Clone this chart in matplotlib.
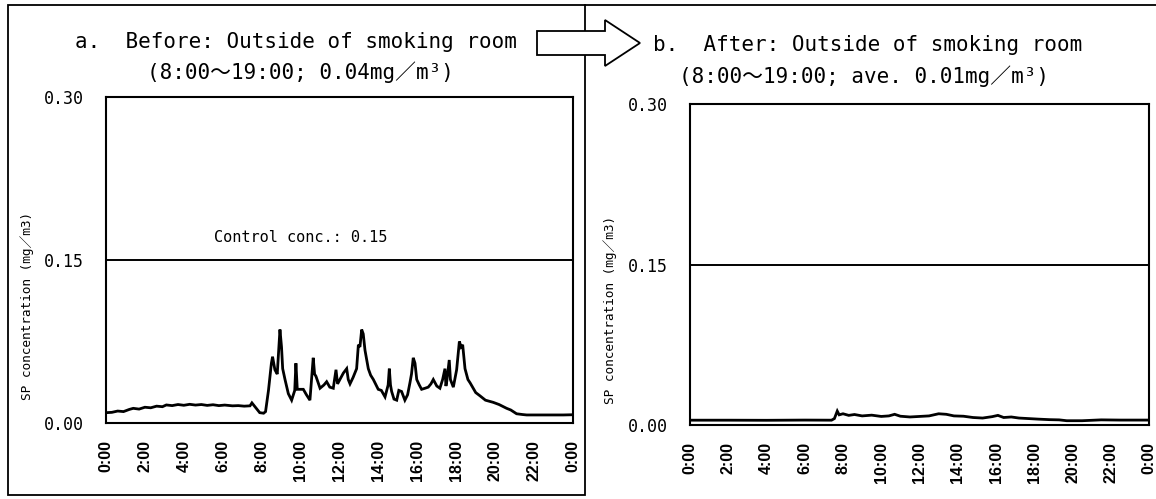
import matplotlib
matplotlib.use("Agg")
import matplotlib.pyplot as plt
from matplotlib.patches import Polygon, Rectangle
from matplotlib.lines import Line2D

# ---------------- data ----------------
tick_hours = [0, 2, 4, 6, 8, 10, 12, 14, 16, 18, 20, 22, 24]
tick_labels = ["0:00", "2:00", "4:00", "6:00", "8:00", "10:00", "12:00",
               "14:00", "16:00", "18:00", "20:00", "22:00", "0:00"]
y_ticks = [0.00, 0.15, 0.30]
y_tick_labels = ["0.00", "0.15", "0.30"]
control_conc = 0.15

before_hours = [0.0, 0.3, 0.6, 0.9, 1.2, 1.4, 1.7, 2.0, 2.3, 2.6, 2.9, 3.1, 3.4, 3.7,
                4.0, 4.3, 4.6, 4.9, 5.2, 5.5, 5.8, 6.1, 6.5, 6.8, 7.1, 7.4, 7.5, 7.7,
                7.9, 8.1, 8.2, 8.35, 8.5, 8.56, 8.68, 8.8, 8.94, 9.02, 9.08, 9.2, 9.37,
                9.54, 9.7, 9.76, 9.83, 10.14, 10.3, 10.48, 10.65, 10.72, 10.79, 11.0,
                11.2, 11.34, 11.5, 11.68, 11.82, 11.9, 12.02, 12.2, 12.37, 12.45, 12.54,
                12.7, 12.88, 12.97, 13.05, 13.14, 13.22, 13.31, 13.48, 13.6, 13.74,
                13.99, 14.15, 14.34, 14.5, 14.56, 14.62, 14.68, 14.8, 14.94, 15.05,
                15.19, 15.36, 15.5, 15.62, 15.7, 15.79, 15.88, 15.97, 16.1, 16.22,
                16.4, 16.56, 16.7, 16.82, 17.0, 17.16, 17.3, 17.42, 17.47, 17.51,
                17.64, 17.7, 17.85, 18.02, 18.16, 18.25, 18.33, 18.45, 18.6, 18.71,
                19.0, 19.22, 19.5, 19.9, 20.2, 20.59, 20.8, 21.1, 21.4, 21.62, 22.5,
                23.5, 24.0]
before_values = [0.0095, 0.0098, 0.0110, 0.0105, 0.0125, 0.0135, 0.0128, 0.0145, 0.0140,
                 0.0155, 0.0150, 0.0166, 0.0160, 0.0170, 0.0163, 0.0172, 0.0165, 0.0170,
                 0.0162, 0.0168, 0.0160, 0.0165, 0.0158, 0.0160, 0.0155, 0.0158, 0.0185,
                 0.0140, 0.0095, 0.0090, 0.0105, 0.030, 0.055, 0.061, 0.049, 0.045,
                 0.086, 0.070, 0.050, 0.040, 0.027, 0.021, 0.030, 0.055, 0.031, 0.031,
                 0.026, 0.021, 0.060, 0.045, 0.043, 0.032, 0.035, 0.038, 0.033, 0.032,
                 0.049, 0.036, 0.040, 0.046, 0.050, 0.040, 0.036, 0.042, 0.050, 0.072,
                 0.070, 0.086, 0.082, 0.067, 0.050, 0.044, 0.040, 0.031, 0.030, 0.024,
                 0.035, 0.050, 0.035, 0.029, 0.022, 0.021, 0.030, 0.029, 0.021, 0.026,
                 0.037, 0.045, 0.060, 0.055, 0.040, 0.035, 0.031, 0.032, 0.033, 0.036,
                 0.040, 0.034, 0.032, 0.040, 0.050, 0.034, 0.038, 0.058, 0.040, 0.033,
                 0.049, 0.075, 0.070, 0.072, 0.050, 0.040, 0.037, 0.028, 0.025, 0.021,
                 0.019, 0.017, 0.0135, 0.012, 0.0085, 0.0078, 0.0074, 0.0074, 0.0074,
                 0.0076]

after_hours = [0.0, 2.0, 4.0, 6.0, 7.4, 7.55, 7.7, 7.8, 8.0, 8.3, 8.6, 9.0, 9.5, 10.0,
               10.4, 10.7, 11.0, 11.5, 12.0, 12.5, 13.0, 13.4, 13.8, 14.3, 14.8, 15.3,
               15.8, 16.1, 16.4, 16.8, 17.2, 17.7, 18.2, 18.8, 19.3, 19.7, 20.5, 21.5,
               22.5, 24.0]
after_values = [0.0045, 0.0045, 0.0044, 0.0046, 0.0045, 0.0060, 0.0130, 0.0095, 0.0105,
                0.0090, 0.0098, 0.0085, 0.0092, 0.0080, 0.0085, 0.0100, 0.0082, 0.0075,
                0.0080, 0.0085, 0.0105, 0.0100, 0.0085, 0.0082, 0.0070, 0.0065, 0.0078,
                0.0090, 0.0070, 0.0075, 0.0065, 0.0060, 0.0055, 0.0050, 0.0048, 0.0040,
                0.0040, 0.0048, 0.0046, 0.0046]

title_a = ["a.  Before: Outside of smoking room", "(8:00～19:00; 0.04mg／m³)"]
title_b = ["b.  After: Outside of smoking room", "(8:00～19:00; ave. 0.01mg／m³)"]
y_label = "SP concentration (mg／m3)"
control_label = "Control conc.: 0.15"

# ---------------- figure ----------------
W, H = 1156, 499
fig = plt.figure(figsize=(W / 100, H / 100), dpi=100)
fig.patch.set_facecolor("white")

mono = ["DejaVu Sans Mono", "Noto Sans CJK JP", "DejaVu Sans"]
sans = ["Liberation Sans", "DejaVu Sans"]


def fx(x):
    return x / W


def fy(y):
    return 1 - y / H


def make_axes(x0, x1, y0, y1):
    return fig.add_axes([fx(x0), fy(y1), fx(x1) - fx(x0), fy(y0) - fy(y1)])


axL = make_axes(106, 573, 97, 423)
axR = make_axes(690, 1149, 104, 425)

for ax, hrs, vals in [(axL, before_hours, before_values), (axR, after_hours, after_values)]:
    ax.plot(hrs, vals, color="black", lw=2.0, solid_joinstyle="miter")
    ax.axhline(control_conc, color="black", lw=1.4)
    ax.set_xlim(0, 24)
    ax.set_ylim(0, 0.30)
    ax.set_xticks(tick_hours)
    ax.set_xticklabels(tick_labels, rotation=90, family=sans, fontsize=11.5,
                       fontweight="bold")
    ax.set_yticks(y_ticks)
    ax.set_yticklabels(y_tick_labels, family=mono, fontsize=12)
    ax.tick_params(axis="x", length=0, pad=12)
    ax.tick_params(axis="y", length=0, pad=16)
    for s in ax.spines.values():
        s.set_linewidth(1.5)
        s.set_color("black")
    ax.set_ylabel(y_label, family=mono, fontsize=9.2)

axL.yaxis.set_label_coords(-0.154, 0.36)
axR.yaxis.set_label_coords(-0.159, 0.36)

axL.text(10.0, 0.171, control_label, family=mono, fontsize=11, ha="center",
         va="center")

# titles
for (cx1, cy1, cx2, cy2), lines in [((296, 42, 300, 72), title_a),
                                    ((868, 45, 864, 76), title_b)]:
    fig.text(fx(cx1), fy(cy1), lines[0], family=mono, fontsize=15, ha="center",
             va="center")
    fig.text(fx(cx2), fy(cy2), lines[1], family=mono, fontsize=15, ha="center",
             va="center")

# frames
fig.add_artist(Rectangle((fx(8), fy(495)), fx(585) - fx(8), fy(5) - fy(495),
                         transform=fig.transFigure, fill=False, lw=1.3,
                         edgecolor="black"))
fig.add_artist(Line2D([fx(585), fx(1156)], [fy(5), fy(5)], transform=fig.transFigure,
                      color="black", lw=1.3))

# hollow block arrow
arrow_pts = [(537, 31), (605, 31), (605, 20), (640, 43), (605, 66), (605, 55),
             (537, 55)]
fig.add_artist(Polygon([(fx(x), fy(y)) for x, y in arrow_pts], closed=True,
                       transform=fig.transFigure, facecolor="white",
                       edgecolor="black", lw=1.3))

fig.savefig("out.png", dpi=100, facecolor="white")
